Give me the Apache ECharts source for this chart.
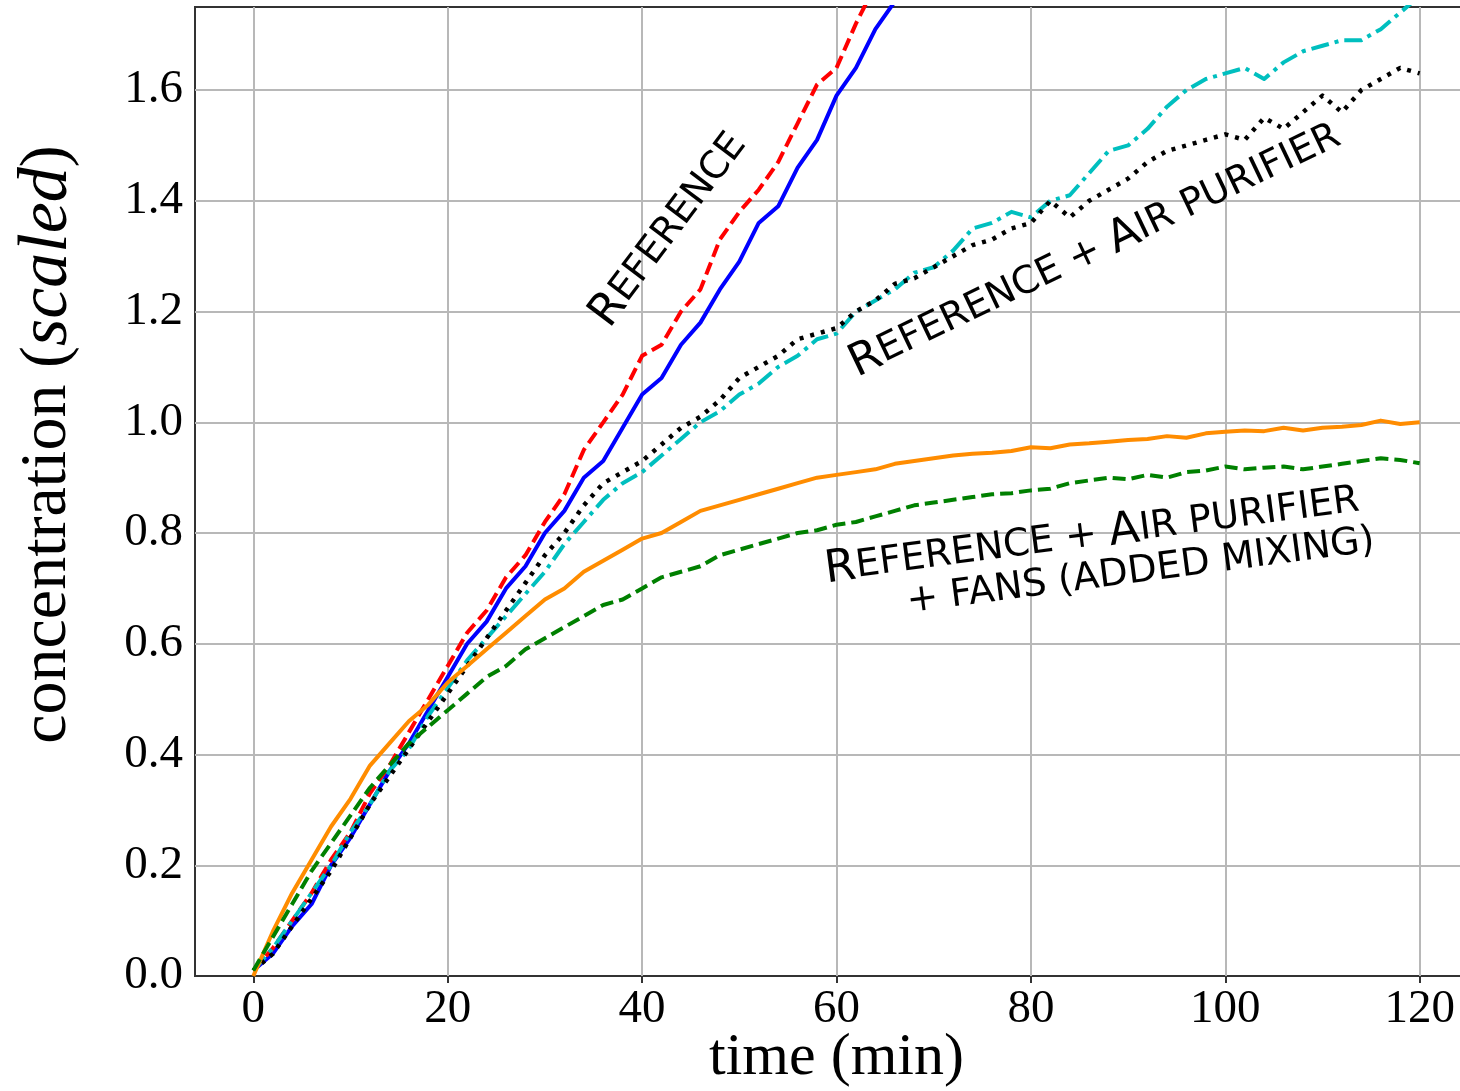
<!DOCTYPE html>
<html>
<head>
<meta charset="utf-8">
<title>concentration vs time</title>
<script src="https://cdn.jsdelivr.net/npm/echarts@6/dist/echarts.min.js"></script>
<style>html,body{margin:0;padding:0;background:#fff;}</style>
</head>
<body>
<div id="main" style="width:1460px;height:1091px;"></div>
<script type="text/javascript">
// time in minutes, one reading every 2 min
var time = [0,2,4,6,8,10,12,14,16,18,20,22,24,26,28,30,32,34,36,38,40,42,44,46,48,50,52,54,56,58,
            60,62,64,66,68,70,72,74,76,78,80,82,84,86,88,90,92,94,96,98,100,102,104,106,108,110,112,114,116,118,120];

// reference (two runs) - they leave the plot around 65 min
var refA = [0.01,0.04,0.09,0.13,0.20,0.25,0.31,0.37,0.42,0.48,0.54,0.60,0.64,0.70,0.74,0.80,0.84,0.90,0.93,0.99,
            1.05,1.08,1.14,1.18,1.24,1.29,1.36,1.39,1.46,1.51,1.59,1.64,1.71,1.76,1.82];
var refB = [0.01,0.05,0.10,0.15,0.21,0.26,0.33,0.38,0.44,0.50,0.56,0.62,0.66,0.72,0.76,0.82,0.87,0.95,1.00,1.05,
            1.12,1.14,1.20,1.24,1.33,1.38,1.42,1.47,1.54,1.61,1.64,1.72,1.79];
// reference + air purifier (two runs)
var purA = [0.01,0.05,0.10,0.15,0.20,0.26,0.31,0.37,0.41,0.47,0.52,0.57,0.61,0.65,0.69,0.73,0.78,0.82,0.86,0.89,
            0.91,0.94,0.97,1.00,1.02,1.05,1.07,1.10,1.12,1.15,1.16,1.20,1.22,1.24,1.27,1.28,1.31,1.35,1.36,1.38,
            1.37,1.40,1.41,1.45,1.49,1.50,1.53,1.57,1.60,1.62,1.63,1.64,1.62,1.65,1.67,1.68,1.69,1.69,1.71,1.74,1.77];
var purB = [0.01,0.04,0.09,0.14,0.19,0.25,0.31,0.36,0.41,0.46,0.51,0.56,0.61,0.66,0.71,0.76,0.80,0.85,0.89,0.91,
            0.93,0.96,0.99,1.01,1.04,1.08,1.10,1.12,1.15,1.16,1.17,1.20,1.22,1.25,1.26,1.28,1.30,1.32,1.33,1.35,
            1.36,1.40,1.37,1.40,1.42,1.44,1.47,1.49,1.50,1.51,1.52,1.51,1.55,1.53,1.56,1.59,1.56,1.60,1.62,1.64,1.63];
// reference + air purifier + fans (two runs)
var fanA = [0.00,0.08,0.15,0.21,0.27,0.32,0.38,0.42,0.46,0.49,0.53,0.56,0.59,0.62,0.65,0.68,0.70,0.73,0.75,0.77,
            0.79,0.80,0.82,0.84,0.85,0.86,0.87,0.88,0.89,0.90,0.905,0.91,0.915,0.925,0.93,0.935,0.94,0.943,0.945,0.948,
            0.955,0.953,0.96,0.962,0.965,0.968,0.97,0.975,0.972,0.98,0.983,0.985,0.984,0.99,0.985,0.99,0.992,0.995,1.003,0.997,1.0];
var fanB = [0.01,0.07,0.13,0.19,0.24,0.29,0.34,0.38,0.42,0.45,0.48,0.51,0.54,0.56,0.59,0.61,0.63,0.65,0.67,0.68,
            0.70,0.72,0.73,0.74,0.76,0.77,0.78,0.79,0.80,0.805,0.815,0.82,0.83,0.84,0.85,0.855,0.86,0.865,0.87,0.872,
            0.877,0.88,0.89,0.895,0.90,0.897,0.905,0.90,0.91,0.913,0.92,0.915,0.918,0.92,0.915,0.92,0.925,0.93,0.935,0.932,0.926];

var xTicks = [0,20,40,60,80,100,120];
var yTicks = [0,0.2,0.4,0.6,0.8,1.0,1.2,1.4,1.6];

// annotation anchors (data coords) and angles
var notes = [
    {at: [42.8, 1.347], angle: 53, text: '{b|R}{s|EFERENCE}'},
    {at: [86.6, 1.31], angle: 25.5, text: '{b|R}{s|EFERENCE + }{b|A}{s|IR PURIFIER}'},
    {at: [86.3, 0.795], angle: 7.5, text: '{b|R}{s|EFERENCE + }{b|A}{s|IR PURIFIER}'},
    {at: [91.3, 0.73], angle: 7.5, text: '{s|+ FANS (ADDED MIXING)}'}
];

function pairs(vals) {
    return vals.map(function (v, i) { return [time[i], v]; });
}

var serif = 'Liberation Serif';
var myChart = echarts.init(document.getElementById('main'));

function line(name, vals, color, type, width) {
    return {
        name: name,
        type: 'line',
        data: pairs(vals),
        showSymbol: false,
        symbol: 'none',
        clip: true,
        z: 3,
        lineStyle: {color: color, width: width, type: type, cap: 'butt', join: 'round'}
    };
}

var option = {
    animation: false,
    backgroundColor: '#fff',
    grid: {
        left: 195, top: 7, right: -18, bottom: 115,
        outerBoundsMode: 'none',
        containLabel: false,
        show: true, borderColor: '#333', borderWidth: 2
    },
    xAxis: {
        type: 'value',
        min: -6, max: 126,
        name: 'time (min)',
        nameLocation: 'middle',
        nameGap: 52,
        nameMoveOverlap: false,
        nameTextStyle: {fontFamily: serif, fontSize: 60, color: '#000'},
        axisLine: {show: true, lineStyle: {color: '#333', width: 2}},
        axisTick: {show: true, length: 7, customValues: xTicks, lineStyle: {color: '#333', width: 2}},
        axisLabel: {customValues: xTicks, margin: 10, fontFamily: serif, fontSize: 47, color: '#000'},
        splitLine: {show: false}
    },
    yAxis: {
        type: 'value',
        min: 0, max: 1.75,
        name: 'concentration ({i|scaled})',
        nameLocation: 'middle',
        nameGap: 112,
        nameRotate: 90,
        nameTextStyle: {
            fontFamily: serif, fontSize: 66, color: '#000',
            padding: [0, 0, 0, 94],
            rich: {i: {fontFamily: serif, fontSize: 70, fontStyle: 'italic', color: '#000'}}
        },
        axisLine: {show: true, lineStyle: {color: '#333', width: 2}},
        axisTick: {show: true, length: 7, customValues: yTicks, lineStyle: {color: '#333', width: 2}},
        axisLabel: {
            customValues: yTicks, margin: 12, fontFamily: serif, fontSize: 47, color: '#000',
            formatter: function (v) { return v.toFixed(1); }
        },
        splitLine: {show: false}
    },
    series: [
        {
            // grid lines
            type: 'line',
            data: [],
            silent: true,
            markLine: {
                silent: true,
                symbol: 'none',
                z: 1,
                label: {show: false},
                lineStyle: {color: '#b8b8b8', width: 2, type: 'solid'},
                data: xTicks.map(function (v) { return {xAxis: v}; })
                    .concat(yTicks.slice(1).map(function (v) { return {yAxis: v}; }))
            }
        },
        line('reference 1', refA, '#0000ff', 'solid', 4),
        line('reference 2', refB, '#ff0000', [13, 6], 4),
        line('purifier 1', purA, '#00bfbf', [18, 6, 4, 6], 4),
        line('purifier 2', purB, '#000000', [4, 7], 4.5),
        line('fans 1', fanA, '#ff8c00', 'solid', 4),
        line('fans 2', fanB, '#008000', [13, 6], 4)
    ]
};

myChart.setOption(option);

var rich = {
    b: {fontFamily: 'DejaVu Sans', fontSize: 45, fill: '#000'},
    s: {fontFamily: 'DejaVu Sans', fontSize: 38, fill: '#000'}
};
var graphics = notes.map(function (n) {
    var p = myChart.convertToPixel({gridIndex: 0}, n.at);
    return {
        type: 'text',
        x: p[0], y: p[1],
        rotation: n.angle * Math.PI / 180,
        z: 10,
        style: {
            text: n.text,
            rich: rich,
            align: 'center',
            verticalAlign: 'middle',
            fill: '#000'
        }
    };
});
myChart.setOption({graphic: graphics});
</script>
</body>
</html>
